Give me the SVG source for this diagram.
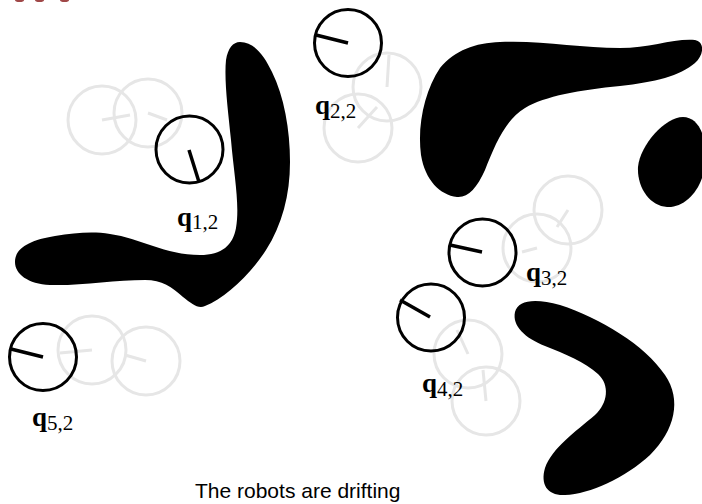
<svg xmlns="http://www.w3.org/2000/svg" width="702" height="504" viewBox="0 0 702 504">
<style>
.obs{fill:#000;stroke:none}
.ghost circle{fill:none;stroke:#e6e6e6;stroke-width:3}
.ghost line{stroke:#e6e6e6;stroke-width:3}
.robot circle{fill:none;stroke:#000;stroke-width:3}
.robot line{stroke:#000;stroke-width:3.5}
.q{font-family:"Liberation Serif","Times New Roman",serif;font-weight:bold;font-size:27px;fill:#000}
.sub{font-family:"Liberation Serif","Times New Roman",serif;font-weight:normal;font-size:21px}
.cap{font-family:"Liberation Sans",Arial,Helvetica,sans-serif;font-size:21px;fill:#000}
</style>
<rect width="702" height="504" fill="#fff"/>
<g id="topmarks" fill="#a04848">
<ellipse cx="19.5" cy="0" rx="4.5" ry="2"/>
<ellipse cx="39.5" cy="0" rx="4.5" ry="2"/>
<ellipse cx="64.5" cy="0" rx="4.5" ry="2"/>
</g>
<g id="obstacles">
<path id="obstacle1" class="obs" d="M240,42 C254,42 264,55 272,72 C284,96 290,130 290,162 C290,195 282,225 266,250 C250,275 225,298 205,306 C198,309 192,304 183,297 C172,287 162,280 145,280 C115,280 80,286 50,285 C28,284 15,274 15,262 C15,248 30,240 55,236 C75,233 92,231 110,234 C140,238 165,255 200,255 C222,255 233,245 236,228 C240,205 234,175 231,140 C228,110 224,80 226,60 C228,48 233,42 240,42 Z"/>
<path id="obstacle2" class="obs" d="M500,42 C540,40 580,48 620,48 C650,48 675,38 695,40 C705,42 704,55 695,63 C680,76 655,82 620,86 C580,90 545,96 525,108 C505,120 495,145 485,170 C477,188 468,198 457,197 C440,195 425,180 421,155 C417,125 425,90 440,68 C455,50 475,43 500,42 Z"/>
<path id="obstacle3" class="obs" d="M683,117 C700,117 708,140 705,165 C702,190 685,208 667,207 C650,206 637,188 638,167 C640,145 665,117 683,117 Z"/>
<path id="obstacle4" class="obs" d="M515,312 C518,300 535,298 560,305 C600,318 645,345 665,375 C682,400 675,430 650,455 C625,478 590,494 565,495 C548,496 540,485 545,468 C552,448 575,432 595,415 C608,403 610,385 598,374 C585,362 565,354 545,346 C525,338 512,326 515,312 Z"/>
</g>
<g id="ghosts" class="ghost">
<circle cx="102" cy="120" r="34"/><line x1="102" y1="120" x2="130" y2="115"/>
<circle cx="148" cy="113" r="34"/><line x1="148" y1="113" x2="167" y2="120"/>
<circle cx="387" cy="87" r="34"/><line x1="387" y1="87" x2="389" y2="55"/>
<circle cx="358" cy="128" r="34"/><line x1="358" y1="128" x2="377" y2="107"/>
<circle cx="537" cy="248" r="34"/><line x1="537" y1="248" x2="522" y2="252"/>
<circle cx="568" cy="210" r="34"/><line x1="568" y1="210" x2="557" y2="227"/>
<circle cx="468" cy="354" r="34"/><line x1="468" y1="354" x2="457" y2="330"/>
<circle cx="486" cy="401" r="34"/><line x1="486" y1="401" x2="483" y2="370"/>
<circle cx="92" cy="350" r="34"/><line x1="92" y1="350" x2="60" y2="353"/>
<circle cx="146" cy="361" r="34"/><line x1="146" y1="361" x2="125" y2="355"/>
</g>
<g id="robot1" class="robot">
<circle cx="189.5" cy="149.5" r="33.5"/><line x1="189" y1="150" x2="199" y2="182"/>
<text class="q" x="177" y="226">q<tspan class="sub" dy="3">1,2</tspan></text>
</g>
<g id="robot2" class="robot">
<circle cx="348" cy="43" r="33.5"/><line x1="348" y1="43" x2="316" y2="35"/>
<text class="q" x="315" y="114">q<tspan class="sub" dy="4">2,2</tspan></text>
</g>
<g id="robot3" class="robot">
<circle cx="482.5" cy="252.5" r="33.5"/><line x1="482" y1="252" x2="450" y2="245"/>
<text class="q" x="526" y="281">q<tspan class="sub" dy="4">3,2</tspan></text>
</g>
<g id="robot4" class="robot">
<circle cx="431" cy="317.5" r="33.5"/><line x1="430" y1="317" x2="400" y2="300"/>
<text class="q" x="422" y="392">q<tspan class="sub" dy="4">4,2</tspan></text>
</g>
<g id="robot5" class="robot">
<circle cx="43" cy="357" r="33.5"/><line x1="43" y1="357" x2="11" y2="349"/>
<text class="q" x="32" y="426">q<tspan class="sub" dy="4">5,2</tspan></text>
</g>
<text class="cap" x="195" y="498">The robots are drifting</text>
</svg>
